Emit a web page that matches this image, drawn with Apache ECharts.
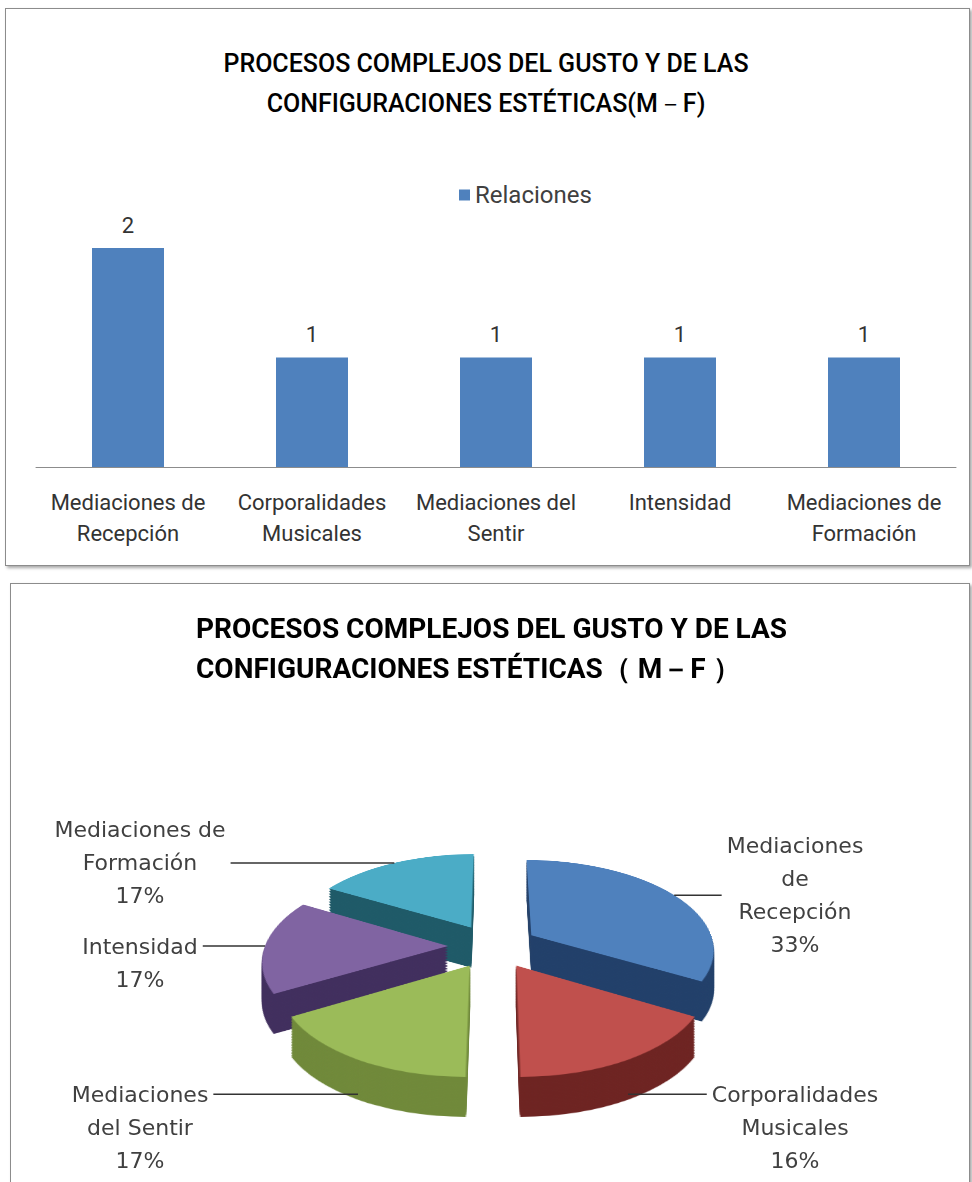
<!DOCTYPE html>
<html>
<head>
<meta charset="utf-8">
<script src="https://cdn.jsdelivr.net/npm/echarts@6/dist/echarts.min.js"></script>
<style>
html, body { margin: 0; padding: 0; width: 972px; height: 1182px; overflow: hidden; background: #fff; }
.panel { position: absolute; border: 1px solid #8c8c8c; box-shadow: 2px 2px 3px rgba(0,0,0,.35); background: #fff; }
#panelTop { left: 5px; top: 8px; width: 963px; height: 556px; }
#panelBottom { left: 10px; top: 583px; width: 958px; height: 640px; }
#barChart { position: absolute; left: 0; top: 0; width: 972px; height: 575px; }
#pieBox { position: absolute; left: 10px; top: 583px; width: 962px; height: 700px; }
.pieLayer { position: absolute; left: 0; top: 0; width: 962px; height: 700px; }
#pieText { position: absolute; left: 10px; top: 583px; width: 962px; height: 800px; }
</style>
</head>
<body>
<div class="panel" id="panelTop"></div>
<div class="panel" id="panelBottom"></div>
<div id="barChart"></div>
<div id="pieBox"></div>
<div id="pieText"></div>
<script>
const categories = ['Mediaciones de Recepción', 'Corporalidades Musicales', 'Mediaciones del Sentir', 'Intensidad', 'Mediaciones de Formación'];
const barLabels = ['Mediaciones de\nRecepción', 'Corporalidades\nMusicales', 'Mediaciones del\nSentir', 'Intensidad', 'Mediaciones de\nFormación'];
const pieLabels = ['Mediaciones\nde\nRecepción', 'Corporalidades\nMusicales', 'Mediaciones\ndel Sentir', 'Intensidad', 'Mediaciones de\nFormación'];
const relaciones = [2, 1, 1, 1, 1];
const percentLabels = ['33%', '16%', '17%', '17%', '17%'];

const faceColors = ['#4F81BD', '#C0504D', '#9BBB59', '#8064A2', '#4BACC6'];
const sideColors = ['#22406A', '#6E2422', '#70893A', '#412F5E', '#1F5A68'];

// pie geometry (inside the bottom panel), tilted with a css perspective
const PIE_CX = 483, PIE_CY = 363;
const PIE_R = 183, EXPLODE = 45;
const PERSPECTIVE = 1109, TILT_DEG = 60.9;
const THICKNESS = 40;                 // screen px
const LABEL_R = PIE_R + EXPLODE;
const LABEL_SPREAD_LEFT = 353, LABEL_SPREAD_RIGHT = 302;

// ---- bar chart ----
let barChart = echarts.init(document.getElementById('barChart'), null, { renderer: 'svg' });
barChart.setOption({
  animation: false,
  title: {
    text: 'PROCESOS COMPLEJOS DEL GUSTO Y DE LAS\nCONFIGURACIONES ESTÉTICAS(M－F)',
    left: 'center',
    top: 43,
    padding: 0,
    textStyle: { fontFamily: 'Roboto', fontWeight: 500, fontSize: 25, lineHeight: 40, color: '#000' }
  },
  legend: {
    data: ['Relaciones'],
    left: 459,
    top: 183,
    padding: 0,
    icon: 'rect',
    itemWidth: 11,
    itemHeight: 11,
    textStyle: { fontFamily: 'Roboto', fontSize: 24, color: '#404040' }
  },
  grid: { left: 36, right: 16, top: 248, bottom: 108 },
  xAxis: {
    type: 'category',
    data: categories,
    axisTick: { show: false },
    axisLine: { lineStyle: { color: '#8c8c8c', width: 1 } },
    axisLabel: {
      interval: 0,
      margin: 20,
      fontFamily: 'Roboto',
      fontSize: 22,
      lineHeight: 31,
      color: '#333',
      formatter: (v, i) => barLabels[i]
    }
  },
  yAxis: { type: 'value', min: 0, max: 2, show: false },
  series: [{
    name: 'Relaciones',
    type: 'bar',
    barWidth: 72,
    itemStyle: { color: '#4F81BD' },
    label: { show: true, position: 'top', distance: 12, fontFamily: 'Roboto', fontSize: 22, color: '#333' },
    data: relaciones
  }]
});

// ---- pie: one tilted layer per pixel step, dark ones below give the thickness ----
const pieBox = document.getElementById('pieBox');
const LAYERS = 25;
for (let i = 0; i <= LAYERS; i++) {
  const isTop = i === LAYERS;
  const el = document.createElement('div');
  el.className = 'pieLayer';
  el.style.transformOrigin = PIE_CX + 'px ' + PIE_CY + 'px';
  el.style.transform = 'translateY(' + (THICKNESS * (1 - i / LAYERS)).toFixed(2) + 'px) perspective(' +
    PERSPECTIVE + 'px) rotateX(' + TILT_DEG + 'deg)';
  pieBox.appendChild(el);
  let layerChart = echarts.init(el, null, { renderer: 'svg' });
  layerChart.setOption({
    animation: false,
    series: [{
      type: 'pie',
      silent: true,
      center: [PIE_CX, PIE_CY],
      radius: PIE_R,
      startAngle: 90,
      selectedMode: 'multiple',
      selectedOffset: EXPLODE,
      label: { show: false },
      labelLine: { show: false },
      emphasis: { disabled: true },
      itemStyle: { borderWidth: 0 },
      data: relaciones.map((v, j) => ({
        value: v,
        name: categories[j],
        selected: true,
        itemStyle: { color: isTop ? faceColors[j] : sideColors[j] }
      }))
    }]
  });
}

// ---- title + pie labels, label anchors run through the same tilt ----
const tiltRad = TILT_DEG * Math.PI / 180;
function project(p) {
  const dx = p[0] - PIE_CX, dy = p[1] - PIE_CY;
  const k = PERSPECTIVE / (PERSPECTIVE - dy * Math.sin(tiltRad));
  return [PIE_CX + dx * k, PIE_CY + dy * Math.cos(tiltRad) * k + (dy > 0 ? THICKNESS * dy / LABEL_R : 0)];
}

let textChart = echarts.init(document.getElementById('pieText'), null, { renderer: 'svg' });
textChart.setOption({
  animation: false,
  title: {
    text: 'PROCESOS COMPLEJOS DEL GUSTO Y DE LAS\nCONFIGURACIONES ESTÉTICAS（ M－F ）',
    left: 186,
    top: 25,
    padding: 0,
    textStyle: { fontFamily: 'Roboto', fontWeight: 'bold', fontSize: 28, lineHeight: 40, color: '#000' }
  },
  series: [{
    type: 'pie',
    silent: true,
    center: [PIE_CX, PIE_CY],
    radius: LABEL_R,
    startAngle: 90,
    itemStyle: { color: 'rgba(0,0,0,0)' },
    label: {
      show: true,
      position: 'outside',
      fontFamily: 'DejaVu Sans',
      fontSize: 22,
      lineHeight: 33,
      color: '#404040',
      formatter: p => pieLabels[p.dataIndex] + '\n' + percentLabels[p.dataIndex]
    },
    labelLine: { show: true, length: 12, length2: 30, lineStyle: { color: '#333', width: 1.5 } },
    labelLayout: function (params) {
      const start = project(params.labelLinePoints[0]);
      const isLeft = start[0] < PIE_CX;
      const w = params.labelRect.width;
      const x = isLeft ? PIE_CX - LABEL_SPREAD_LEFT : PIE_CX + LABEL_SPREAD_RIGHT;
      const end = [x + (isLeft ? 1 : -1) * (w / 2 + 5), start[1]];
      const upper = end[1] - PIE_CY < -20;
      return {
        x: x,
        y: upper ? end[1] : end[1] - 16,
        align: 'center',
        verticalAlign: upper ? 'middle' : 'top',
        labelLinePoints: [start, start, end]
      };
    },
    data: relaciones.map((v, i) => ({ value: v, name: categories[i] }))
  }]
});
</script>
</body>
</html>
